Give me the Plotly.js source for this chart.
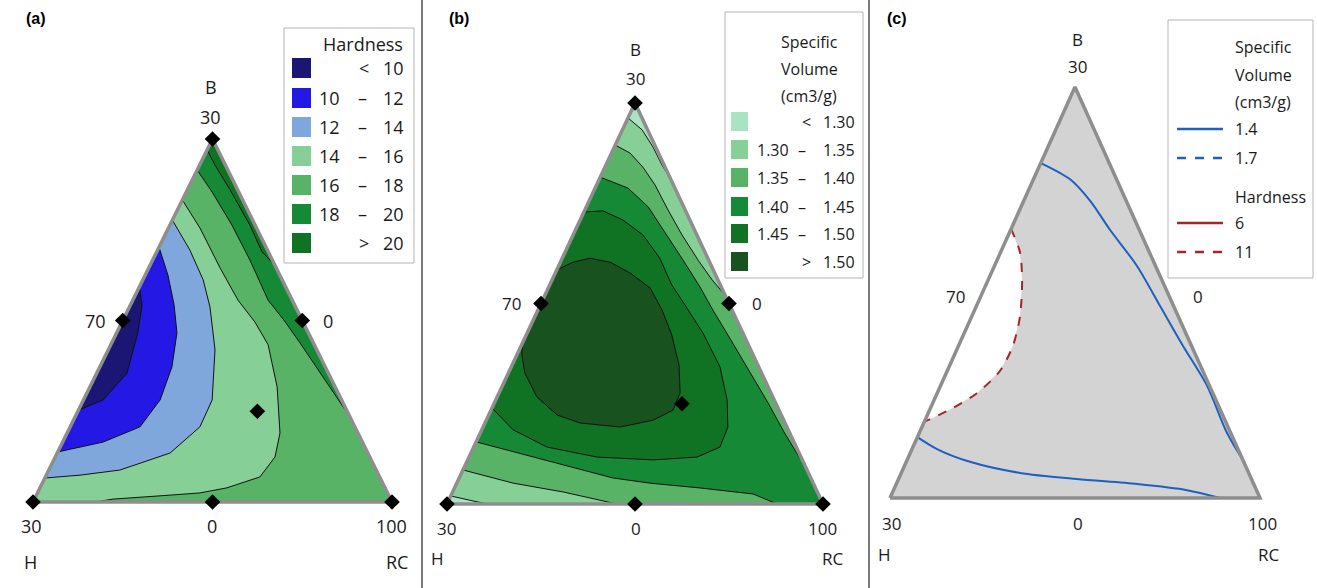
<!DOCTYPE html>
<html><head><meta charset="utf-8">
<script src="https://cdn.plot.ly/plotly-3.0.1.min.js"></script>
<style>html,body{margin:0;padding:0;background:#fff}#chart{width:1317px;height:588px}</style>
</head><body><div id="chart"></div>
<script>
// ---------- DATA (pseudo-component coordinates: u along H->RC base, v toward B apex) ----------
// design points
const design_u = [0, 1, 0.5, 0.5, 0.25, 0.75, 0.625];
const design_v = [0, 0, 1, 0, 0.5, 0.5, 0.25];

// (a) Hardness contour lines
const hard20_u = [0.485,0.507,0.549,0.604,0.638,0.673];
const hard20_v = [0.970,0.928,0.860,0.763,0.689,0.653];
const hard18_u = [0.457,0.499,0.554,0.604,0.655,0.699,0.744,0.813,0.883];
const hard18_v = [0.915,0.854,0.763,0.667,0.556,0.501,0.438,0.336,0.234];
const hard16_u = [0.416,0.465,0.521,0.571,0.618,0.655,0.680,0.688,0.674,0.632,0.540,0.465,0.354,0.223,0.173];
const hard16_v = [0.832,0.755,0.645,0.556,0.496,0.433,0.317,0.190,0.124,0.069,0.039,0.025,0.017,0.008,0];
const hard14_u = [0.388,0.437,0.474,0.493,0.507,0.499,0.465,0.382,0.242,0.131,0.033];
const hard14_v = [0.777,0.694,0.612,0.537,0.419,0.281,0.207,0.135,0.088,0.074,0.066];
const hard12_u = [0.351,0.376,0.393,0.401,0.387,0.354,0.298,0.195,0.069];
const hard12_v = [0.702,0.625,0.543,0.466,0.372,0.281,0.207,0.165,0.138];
const hard10_u = [0.296,0.304,0.292,0.262,0.195,0.127];
const hard10_v = [0.592,0.543,0.466,0.355,0.281,0.253];

// (b) Specific volume contour lines
const sv150_u = [0.292,0.335,0.380,0.434,0.487,0.540,0.572,0.598,0.617,0.620,0.601,0.548,0.460,0.354,0.293,0.239,0.207,0.199,0.2005];
const sv150_v = [0.584,0.603,0.613,0.603,0.576,0.539,0.484,0.421,0.347,0.277,0.234,0.209,0.192,0.202,0.222,0.267,0.327,0.372,0.401];
const sv145_u = [0.364,0.415,0.468,0.521,0.566,0.598,0.633,0.681,0.726,0.745,0.747,0.726,0.665,0.548,0.399,0.266,0.176,0.120];
const sv145_v = [0.728,0.731,0.708,0.671,0.613,0.546,0.496,0.426,0.342,0.259,0.192,0.142,0.117,0.110,0.117,0.142,0.185,0.239];
const sv140a_u = [0.4075,0.481,0.535,0.580,0.628,0.673,0.707,0.755,0.806,0.854,0.896,0.928,0.9515];
const sv140a_v = [0.815,0.788,0.741,0.678,0.608,0.541,0.484,0.409,0.329,0.252,0.180,0.130,0.097];
const sv140b_u = [0.878,0.814,0.673,0.540,0.441,0.309,0.176,0.077];
const sv140b_v = [0,0.025,0.040,0.052,0.065,0.097,0.130,0.155];
const sv135a_u = [0.4476,0.487,0.521,0.553,0.588,0.625,0.668,0.705,0.741];
const sv135a_v = [0.895,0.875,0.840,0.796,0.733,0.671,0.608,0.559,0.519];
const sv135b_u = [0.042,0.114,0.176,0.309,0.452];
const sv135b_v = [0.085,0.067,0.052,0.030,0];
const sv130a_u = [0.481,0.519,0.548,0.572,0.596];
const sv130a_v = [0.963,0.933,0.890,0.845,0.808];
const sv130b_u = [0.010,0.061,0.106];
const sv130b_v = [0.020,0.010,0];

// (c) overlaid contours
const vol14a_u = [0.4075,0.486,0.541,0.595,0.668,0.730,0.792,0.857,0.911,0.954];
const vol14a_v = [0.815,0.776,0.723,0.652,0.564,0.467,0.370,0.273,0.158,0.092];
const vol14b_u = [0.074,0.127,0.216,0.351,0.505,0.668,0.803,0.892];
const vol14b_v = [0.148,0.119,0.088,0.061,0.046,0.034,0.019,0];
const hard11_u = [0.327,0.351,0.357,0.351,0.332,0.297,0.235,0.170,0.092];
const hard11_v = [0.655,0.599,0.528,0.440,0.370,0.309,0.255,0.219,0.185];

// legend labels
const hardLevels = [['<','10'],['10','–','12'],['12','–','14'],['14','–','16'],['16','–','18'],['18','–','20'],['>','20']];
const svLevels = [['<','1.30'],['1.30','–','1.35'],['1.35','–','1.40'],['1.40','–','1.45'],['1.45','–','1.50'],['>','1.50']];
const overlayVol = ['1.4','1.7'];
const overlayHard = ['6','11'];
const vertexLabels = {top:['B','30'], left:'70', right:'0', bl:'30', bm:'0', br:'100', h:'H', rc:'RC'};

// ---------- STYLE ----------
const hardColors = ['#1b1574','#2419e4','#7fa7dc','#86cf96','#58b367','#168936','#107324'];
const svColors = ['#a8e3c2','#86cf96','#58b367','#168936','#107324','#17521f'];
const blue = '#1f5fc0', red = '#a3262a';
const FW = 1317, FH = 588;
const panels = [{x0:33,w:359,base:502,h:363},{x0:447,w:376,base:504,h:401},{x0:890,w:370,base:498,h:411}];
const pad = 0.05;
const font = {family:'"Open Sans", "Noto Sans", sans-serif', size:16, color:'#1a1a1a'};

const layout = {width:FW,height:FH,margin:{l:0,r:0,t:0,b:0},paper_bgcolor:'#fff',plot_bgcolor:'rgba(0,0,0,0)',
  showlegend:false, annotations:[], shapes:[]};
panels.forEach((p,i)=>{
  const s = i===0?'':String(i+1);
  layout['xaxis'+s] = {domain:[(p.x0-pad*p.w)/FW,(p.x0+(1+pad)*p.w)/FW],range:[-pad,1+pad],visible:false,fixedrange:true,anchor:'y'+s};
  layout['yaxis'+s] = {domain:[(FH-(p.base+pad*p.h))/FH,(FH-(p.base-(1+pad)*p.h))/FH],range:[-pad,1+pad],visible:false,fixedrange:true,anchor:'x'+s};
});
const traces = [];
const ax = i => i===0?{xaxis:'x',yaxis:'y'}:{xaxis:'x'+(i+1),yaxis:'y'+(i+1)};
function poly(u,v,color,i){traces.push(Object.assign({type:'scatter',mode:'lines',x:u,y:v,fill:'toself',fillcolor:color,line:{width:0,color:color},hoverinfo:'skip'},ax(i)));}
function line(u,v,color,width,dash,i,shape){traces.push(Object.assign({type:'scatter',mode:'lines',x:u,y:v,line:{color:color,width:width,dash:dash||'solid',shape:shape||'linear',smoothing:0.8},hoverinfo:'skip'},ax(i)));}
const triU=[0,1,0.5], triV=[0,0,1];
const cat=(...a)=>[].concat(...a);

// (a)
poly(triU,triV,hardColors[4],0);
poly(cat(hard18_u,[0.5]),cat(hard18_v,[1]),hardColors[5],0);
poly(cat(hard20_u,[0.5]),cat(hard20_v,[1]),hardColors[6],0);
poly(cat(hard16_u,[0]),cat(hard16_v,[0]),hardColors[3],0);
poly(hard14_u,hard14_v,hardColors[2],0);
poly(hard12_u,hard12_v,hardColors[1],0);
poly(hard10_u,hard10_v,hardColors[0],0);
[[hard20_u,hard20_v],[hard18_u,hard18_v],[hard16_u,hard16_v],[hard14_u,hard14_v],[hard12_u,hard12_v],[hard10_u,hard10_v]].forEach(c=>line(c[0],c[1],'#111',1,null,0));

// (b)
poly(triU,triV,svColors[2],1);
poly(cat(sv140a_u,[1],sv140b_u),cat(sv140a_v,[0],sv140b_v),svColors[3],1);
poly(sv145_u,sv145_v,svColors[4],1);
poly(sv150_u,sv150_v,svColors[5],1);
poly(cat(sv135a_u,[0.5]),cat(sv135a_v,[1]),svColors[1],1);
poly(cat(sv130a_u,[0.5]),cat(sv130a_v,[1]),svColors[0],1);
poly(cat(sv135b_u,[0]),cat(sv135b_v,[0]),svColors[1],1);
poly(cat(sv130b_u,[0]),cat(sv130b_v,[0]),svColors[0],1);
[[sv150_u,sv150_v],[sv145_u,sv145_v],[sv140a_u,sv140a_v],[sv140b_u,sv140b_v],[sv135a_u,sv135a_v],[sv135b_u,sv135b_v],[sv130a_u,sv130a_v],[sv130b_u,sv130b_v]].forEach(c=>line(c[0],c[1],'#111',1,null,1));

// (c)
poly(triU,triV,'#d3d3d3',2);
poly(hard11_u,hard11_v,'#ffffff',2);
line(vol14a_u,vol14a_v,blue,2,null,2,'spline');
line(vol14b_u,vol14b_v,blue,2,null,2,'spline');
line(hard11_u,hard11_v,red,2,'dash',2,'spline');

// outlines + design points
for(let i=0;i<3;i++){ line([0,1,0.5,0],[0,0,1,0],'#8e8e8e',3.5,null,i); }
for(let i=0;i<2;i++){ traces.push(Object.assign({type:'scatter',mode:'markers',x:design_u,y:design_v,cliponaxis:false,marker:{symbol:'diamond',size:12,color:'#000'},hoverinfo:'skip'},ax(i))); }

// ---------- TEXT / LEGENDS ----------
const P = (x,y)=>({x:x/FW,y:1-y/FH});
function txt(t,x,y,opt){opt=opt||{};const q=P(x,y);layout.annotations.push({xref:'paper',yref:'paper',x:q.x,y:q.y,text:t,showarrow:false,
  xanchor:opt.xa||'center',yanchor:'middle',font:Object.assign({},font,opt.font||{})});}
function rect(x0,y0,x1,y1,fill,lc){const a=P(x0,y0),b=P(x1,y1);layout.shapes.push({type:'rect',xref:'paper',yref:'paper',x0:a.x,y0:b.y,x1:b.x,y1:a.y,fillcolor:fill,line:{color:lc||fill,width:lc?1:0}});}
function seg(x0,y0,x1,y1,color,w,dash){const a=P(x0,y0),b=P(x1,y1);layout.shapes.push({type:'line',xref:'paper',yref:'paper',x0:a.x,y0:a.y,x1:b.x,y1:b.y,line:{color:color,width:w,dash:dash||'solid'}});}

// separators
seg(422,0,422,588,'#7a7a7a',2);
seg(869,0,869,588,'#7a7a7a',2);

// panel letters
const letterFont = {family:'Arial, "Liberation Sans", sans-serif',size:16,color:'#000'};
txt('<b>(a)</b>',36,18,{font:letterFont});
txt('<b>(b)</b>',459,18,{font:letterFont});
txt('<b>(c)</b>',897,18,{font:letterFont});

// vertex labels
const labPos = [
  {fs:18,B:[211,87],t:[211,117],l:[95,321],r:[328,321],bl:[31,526],bm:[212,526],br:[391,526],h:[30,562],rc:[397,562]},
  {fs:17,B:[635,50],t:[635,79],l:[511,303],r:[757,303],bl:[446,528],bm:[636,528],br:[822,528],h:[437,558],rc:[832,558]},
  {fs:17,B:[1077,40],t:[1077,66],l:[955,297],r:[1198,297],bl:[891,523],bm:[1078,523],br:[1262,523],h:[884,554],rc:[1268,554]}];
labPos.forEach(L=>{
  const f={size:L.fs};
  txt(vertexLabels.top[0],L.B[0],L.B[1],{font:f});
  txt(vertexLabels.top[1],L.t[0],L.t[1],{font:f});
  txt(vertexLabels.left,L.l[0],L.l[1],{font:f});
  txt(vertexLabels.right,L.r[0],L.r[1],{font:f});
  txt(vertexLabels.bl,L.bl[0],L.bl[1],{font:f});
  txt(vertexLabels.bm,L.bm[0],L.bm[1],{font:f});
  txt(vertexLabels.br,L.br[0],L.br[1],{font:f});
  txt(vertexLabels.h,L.h[0],L.h[1],{font:f});
  txt(vertexLabels.rc,L.rc[0],L.rc[1],{font:f});
});

// legend (a)
const fa={size:18};
rect(284,28,414,263,'#ffffff','#b4b4b4');
txt('Hardness',363,44,{font:fa});
hardLevels.forEach((lv,k)=>{
  const y=[68,98,127,156,185,214,243][k];
  rect(292,y-10,311,y+10,hardColors[k]);
  if(lv.length===2){txt(lv[0],364,y,{font:fa});txt(lv[1],406,y,{xa:'right',font:fa});}
  else{txt(lv[0],342,y,{xa:'right',font:fa});txt(lv[1],362,y,{font:fa});txt(lv[2],406,y,{xa:'right',font:fa});}
});
// legend (b)
rect(725,12,863,278,'#ffffff','#b4b4b4');
txt('Specific',809,42);txt('Volume',809,69);txt('(cm3/g)',809,96);
svLevels.forEach((lv,k)=>{
  const y=[122,150,178,207,234,262][k];
  rect(731,y-10,748,y+9,svColors[k]);
  if(lv.length===2){txt(lv[0],806,y);txt(lv[1],857,y,{xa:'right'});}
  else{txt(lv[0],791,y,{xa:'right'});txt(lv[1],802,y);txt(lv[2],857,y,{xa:'right'});}
});
// legend (c)
rect(1168,20,1313,278,'#ffffff','#b4b4b4');
txt('Specific',1233,47,{xa:'left'});txt('Volume',1233,75,{xa:'left'});txt('(cm3/g)',1233,102,{xa:'left'});
seg(1177,129,1223,129,blue,2.5);txt(overlayVol[0],1233,129,{xa:'left'});
seg(1177,158,1223,158,blue,2.5,'dash');txt(overlayVol[1],1233,158,{xa:'left'});
txt('Hardness',1233,197,{xa:'left'});
seg(1177,223,1223,223,red,2.5);txt(overlayHard[0],1233,223,{xa:'left'});
seg(1177,252,1223,252,red,2.5,'dash');txt(overlayHard[1],1233,252,{xa:'left'});

Plotly.newPlot('chart',traces,layout,{staticPlot:true,displayModeBar:false});
</script></body></html>
